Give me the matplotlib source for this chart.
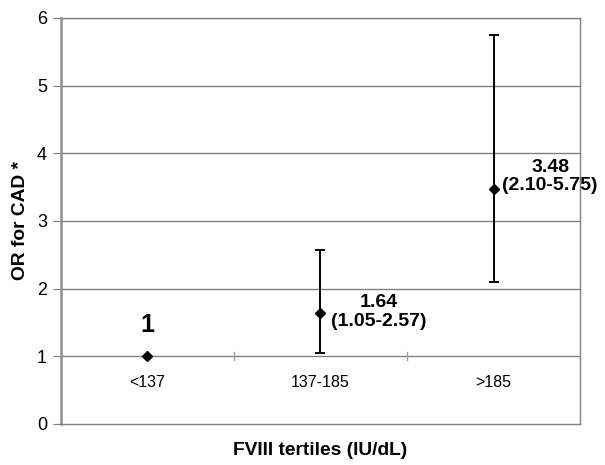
import matplotlib
matplotlib.use("Agg")
import matplotlib.pyplot as plt

# data
categories = ["<137", "137-185", ">185"]
odds = [1.0, 1.64, 3.48]
ci_low = [1.0, 1.05, 2.10]
ci_high = [1.0, 2.57, 5.75]
point_labels = ["1", "1.64\n(1.05-2.57)", "3.48\n(2.10-5.75)"]

plt.rcParams["font.family"] = ["Liberation Sans", "DejaVu Sans"]

fig = plt.figure(figsize=(6.05, 4.65), dpi=100)
ax = fig.add_axes([0.1008, 0.0882, 0.8579, 0.8731])

xs = [i + 0.5 for i in range(len(categories))]
ax.set_xlim(0, len(categories))
ax.set_ylim(0, 6)

# gridlines
for y in range(1, 7):
    ax.axhline(y, color="#808080", lw=1.0, zorder=1)

# separators on the y=1 line
for i in range(1, len(categories)):
    ax.plot([i, i], [0.94, 1.06], color="#a0a0a0", lw=1.0, zorder=1)

# points with error bars (first one has no CI)
err_lo = [o - l for o, l in zip(odds, ci_low)]
err_hi = [h - o for o, h in zip(odds, ci_high)]
ax.errorbar(xs[1:], odds[1:], yerr=[err_lo[1:], err_hi[1:]], fmt="none",
            ecolor="black", elinewidth=1.4, capsize=3.6, capthick=1.4, zorder=3)
ax.plot(xs, odds, linestyle="none", marker="D", markersize=5.5,
        color="black", zorder=4)

# labels
ax.text(xs[0], 1.46, point_labels[0], ha="center", va="center",
        fontsize=18, fontweight="bold")
ax.text(xs[1] + 0.335, 1.655, point_labels[1], ha="center", va="center",
        fontsize=14, fontweight="bold", linespacing=1.1, clip_on=False)
ax.text(xs[2] + 0.327, 3.66, point_labels[2], ha="center", va="center",
        fontsize=14, fontweight="bold", linespacing=1.1, clip_on=False)

# category labels under the y=1 line
for x, c in zip(xs, categories):
    ax.text(x, 0.62, c, ha="center", va="center", fontsize=11.5)

ax.set_xticks([])
ax.set_yticks(range(0, 7))
ax.tick_params(axis="y", labelsize=13, length=6, color="#808080", pad=4)

for s in ["top", "right", "bottom"]:
    ax.spines[s].set_color("#808080")
    ax.spines[s].set_linewidth(1.0)
ax.spines["left"].set_color("#909090")
ax.spines["left"].set_linewidth(1.8)

ax.set_ylabel("OR for CAD *", fontsize=13.8, fontweight="bold", labelpad=6)
ax.set_xlabel("FVIII tertiles (IU/dL)", fontsize=13.8, fontweight="bold", labelpad=13)

fig.savefig("out.png", dpi=100)
